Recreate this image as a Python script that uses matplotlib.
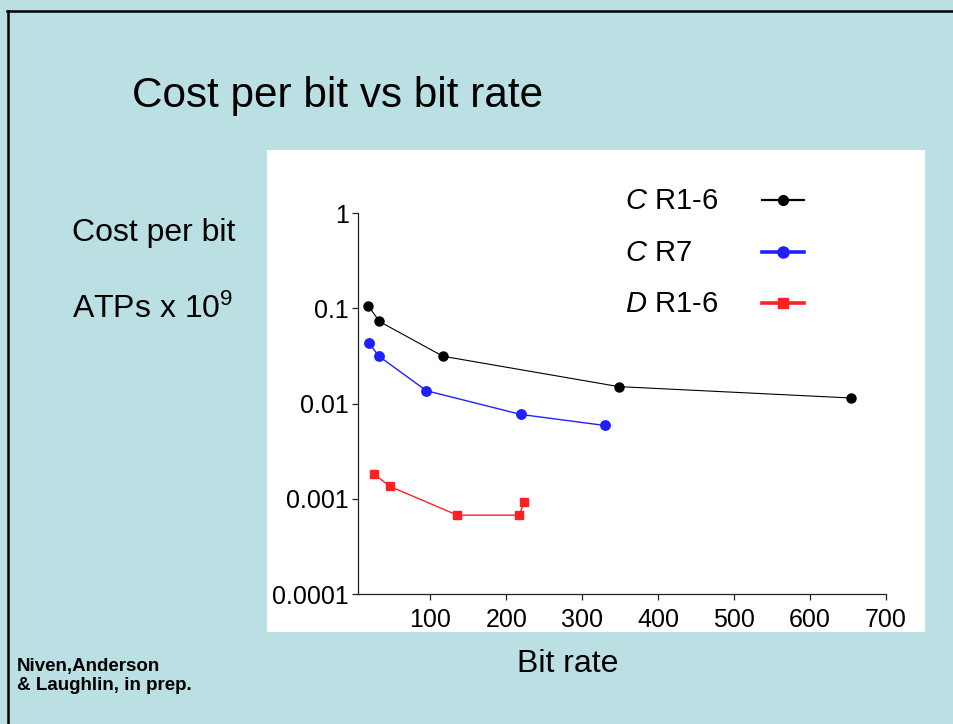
import matplotlib
matplotlib.use("Agg")
import matplotlib.pyplot as plt
from matplotlib.lines import Line2D
from matplotlib.patches import Rectangle
from matplotlib.ticker import FixedLocator, FixedFormatter, NullLocator

plt.rcParams['font.family'] = ['Liberation Sans', 'DejaVu Sans']
plt.rcParams['mathtext.fontset'] = 'custom'
plt.rcParams['mathtext.rm'] = 'Liberation Sans'
plt.rcParams['mathtext.it'] = 'Liberation Sans:italic'

# Data
c_r16_x = [18.2, 32.8, 116.4, 348.2, 654.9]
c_r16_y = [0.1066, 0.073, 0.0315, 0.0151, 0.01146]
c_r7_x = [18.8, 31.7, 94.7, 219.2, 329.6]
c_r7_y = [0.0439, 0.0317, 0.01368, 0.0077, 0.0059]
d_r16_x = [25.2, 46.8, 135.6, 217.4, 223.2]
d_r16_y = [0.00183, 0.00135, 0.000673, 0.000673, 0.00093]

series_labels = [r"$\mathit{C}$ R1-6", r"$\mathit{C}$ R7", r"$\mathit{D}$ R1-6"]
x_ticks = [100, 200, 300, 400, 500, 600, 700]
y_ticks = [0.0001, 0.001, 0.01, 0.1, 1]
y_tick_labels = ["0.0001", "0.001", "0.01", "0.1", "1"]

BG = "#BBE0E3"
BLUE = "#2020FF"
RED = "#FF2020"

W, H = 954, 724
fig = plt.figure(figsize=(W / 100, H / 100), dpi=100, facecolor=BG)


def fx(px):
    return px / W


def fy(py):
    return 1 - py / H


# border lines (top and left)
fig.add_artist(Line2D([fx(7.5), 1], [fy(11), fy(11)], color="black", lw=1.8, transform=fig.transFigure))
fig.add_artist(Line2D([fx(8), fx(8)], [0, fy(11)], color="black", lw=1.8, transform=fig.transFigure))

# white plot panel
fig.add_artist(Rectangle((fx(267), fy(632)), (925 - 267) / W, (632 - 150) / H,
                         facecolor="white", edgecolor="none", transform=fig.transFigure, zorder=0))

ax = fig.add_axes([fx(358.3), fy(594), (885.7 - 358.3) / W, (594 - 213.3) / H])
ax.set_facecolor("none")
ax.set_yscale("log")
ax.set_xlim(5, 700)
ax.set_ylim(1e-4, 1)

ax.plot(c_r16_x, c_r16_y, color="black", lw=0.8, marker="o", ms=6.5, clip_on=False)
ax.plot(c_r7_x, c_r7_y, color=BLUE, lw=1.0, marker="o", ms=6.8, clip_on=False)
ax.plot(d_r16_x, d_r16_y, color=RED, lw=1.0, marker="s", ms=5.8, clip_on=False)

for s in ["top", "right"]:
    ax.spines[s].set_visible(False)
for s in ["left", "bottom"]:
    ax.spines[s].set_color("#222222")
    ax.spines[s].set_linewidth(0.9)

ax.xaxis.set_major_locator(FixedLocator(x_ticks))
ax.yaxis.set_major_locator(FixedLocator(y_ticks))
ax.yaxis.set_major_formatter(FixedFormatter(y_tick_labels))
ax.yaxis.set_minor_locator(NullLocator())
ax.tick_params(axis="both", which="major", labelsize=18, length=4, width=0.9, color="#222222")
ax.tick_params(axis="x", pad=6)
ax.tick_params(axis="y", pad=3)

# legend drawn by hand (text on the left, sample on the right)
legend_styles = [
    dict(color="black", lw=1.6, marker="o", ms=7),
    dict(color=BLUE, lw=2.6, marker="o", ms=8),
    dict(color=RED, lw=2.6, marker="s", ms=7),
]
row_baselines = [209.3, 260.7, 311.7]
for lab, st, yb in zip(series_labels, legend_styles, row_baselines):
    fig.text(fx(625), fy(yb), lab, fontsize=21, ha="left", va="baseline")
    yc = yb - 9
    fig.add_artist(Line2D([fx(762), fx(804)], [fy(yc), fy(yc)], color=st["color"], lw=st["lw"],
                          transform=fig.transFigure))
    fig.add_artist(Line2D([fx(783)], [fy(yc)], color=st["color"], marker=st["marker"], ms=st["ms"],
                          lw=0, transform=fig.transFigure))

# texts
fig.text(fx(131.7), fy(106.7), "Cost per bit vs bit rate", fontsize=30.4, va="baseline", ha="left")
fig.text(fx(71.7), fy(240.7), "Cost per bit", fontsize=23, va="baseline", ha="left")
fig.text(fx(71.7), fy(318.3), r"ATPs x 10$^{9}$", fontsize=23, va="baseline", ha="left")
fig.text(fx(567.5), fy(671.7), "Bit rate", fontsize=23, va="baseline", ha="center")
fig.text(fx(17), fy(671), "Niven,Anderson", fontsize=13.5, fontweight="bold", va="baseline", ha="left")
fig.text(fx(17), fy(690), "& Laughlin, in prep.", fontsize=13.5, fontweight="bold", va="baseline", ha="left")

fig.savefig("out.png", dpi=100, facecolor=BG)
